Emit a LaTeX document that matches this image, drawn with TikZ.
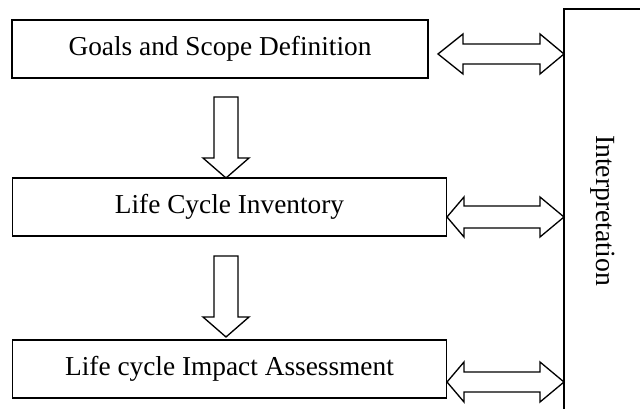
\documentclass[tikz,border=0pt]{standalone}
\usepackage{fontspec}
\setmainfont{Liberation Serif}
\begin{document}
\begin{tikzpicture}[x=0.75pt,y=-0.75pt,
  stagebox/.style={draw, line width=1.4pt, inner sep=0pt, font=\fontsize{20.5}{24}\selectfont},
  blockarrow/.style={draw, line width=1pt, line join=miter, fill=white},
  lbl/.style={font=\fontsize{20.8}{24}\selectfont, inner sep=0pt}]
\useasboundingbox (0,0) rectangle (640,409);
% stage boxes
\node[stagebox, minimum width=312pt, minimum height=43.5pt] (goals) at (220,49) {Goals and Scope Definition};
\node[stagebox, minimum width=325.5pt, minimum height=43.5pt] (lci) at (229.5,207) {Life Cycle Inventory};
\node[stagebox, minimum width=325.5pt, minimum height=43.5pt] (lcia) at (229.5,369) {Life cycle Impact Assessment};
% interpretation (open box, cut by the page)
\coordinate (ibot) at (564,420);
\coordinate (itop) at (564,9);
\coordinate (iright) at (650,9);
\draw[line width=1.1pt] (ibot) -- (itop) -- (iright);
\node[lbl, rotate=-90] (interp) at (603,210.5) {Interpretation};
% down block arrows
\draw[blockarrow] (214,97) -- (238,97) -- (238,158) -- (249,158) -- (226,178) -- (203,158) -- (214,158) -- cycle;
\draw[blockarrow] (214,256) -- (238,256) -- (238,317) -- (249,317) -- (226,337) -- (203,317) -- (214,317) -- cycle;
% double block arrows
\draw[blockarrow] (438,54) -- (463,34) -- (463,44) -- (540,44) -- (540,34) -- (564,54) -- (540,74) -- (540,64) -- (463,64) -- (463,74) -- cycle;
\draw[blockarrow] (447,217) -- (464,197) -- (464,206) -- (540,206) -- (540,197) -- (564,217) -- (540,237) -- (540,228) -- (464,228) -- (464,237) -- cycle;
\draw[blockarrow] (447,382) -- (464,362) -- (464,372) -- (540,372) -- (540,362) -- (564,382) -- (540,402) -- (540,392) -- (464,392) -- (464,402) -- cycle;
\end{tikzpicture}
\end{document}
